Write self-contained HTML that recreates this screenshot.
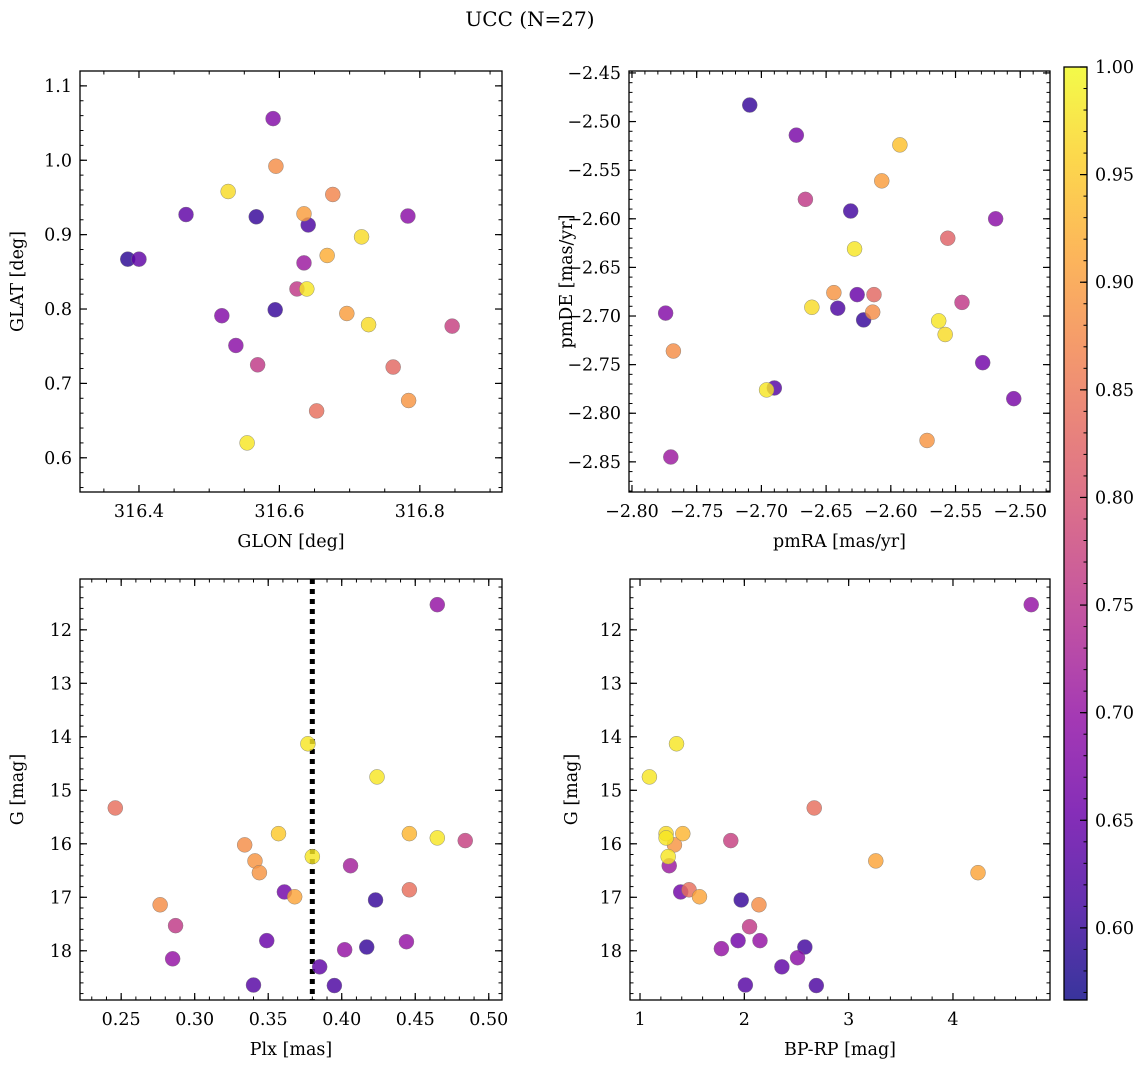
<!DOCTYPE html>
<html><head><meta charset="utf-8">
<style>
html,body{margin:0;padding:0;background:#fff;}
svg{display:block;font-family:"DejaVu Serif","Liberation Serif",serif;}
</style></head>
<body>
<svg id="fig" width="1148" height="1067" viewBox="0 0 1148 1067" xmlns="http://www.w3.org/2000/svg">
<text x="530" y="26" font-size="20" text-anchor="middle">UCC (N=27)</text>
</svg>
<script>
// ---- Panel 1: GLON vs GLAT ----
const glon = [316.591,316.595,316.527,316.676,316.467,316.567,316.635,316.641,316.783,316.717,316.384,316.400,316.668,316.635,316.625,316.639,316.594,316.518,316.696,316.727,316.846,316.538,316.569,316.762,316.653,316.784,316.554];
const glat = [1.056,0.992,0.958,0.954,0.927,0.924,0.928,0.913,0.925,0.897,0.867,0.867,0.872,0.862,0.827,0.827,0.799,0.791,0.794,0.779,0.777,0.751,0.725,0.722,0.663,0.677,0.620];
const probSky = [0.68,0.88,0.97,0.87,0.64,0.60,0.90,0.62,0.69,0.97,0.59,0.64,0.92,0.71,0.76,0.98,0.60,0.68,0.90,0.97,0.77,0.69,0.76,0.83,0.84,0.89,0.98];
// ---- Panel 2: pmRA vs pmDE ----
const pmRA = [-2.709,-2.673,-2.593,-2.607,-2.666,-2.631,-2.519,-2.556,-2.628,-2.774,-2.644,-2.626,-2.613,-2.661,-2.641,-2.614,-2.621,-2.545,-2.563,-2.558,-2.768,-2.690,-2.696,-2.529,-2.505,-2.572,-2.770];
const pmDE = [-2.483,-2.514,-2.524,-2.561,-2.580,-2.592,-2.600,-2.620,-2.631,-2.697,-2.676,-2.678,-2.678,-2.691,-2.692,-2.696,-2.704,-2.686,-2.705,-2.719,-2.736,-2.774,-2.776,-2.748,-2.785,-2.828,-2.845];
const probPm = [0.60,0.67,0.94,0.90,0.76,0.61,0.69,0.82,0.98,0.68,0.89,0.65,0.83,0.97,0.62,0.88,0.60,0.76,0.98,0.97,0.88,0.63,0.98,0.66,0.67,0.89,0.71];
// ---- Panel 3: Plx vs G ----
const plx = [0.246,0.2765,0.287,0.285,0.334,0.341,0.344,0.357,0.361,0.368,0.349,0.340,0.377,0.380,0.385,0.395,0.402,0.406,0.417,0.423,0.424,0.444,0.446,0.446,0.465,0.465,0.484];
const gPlx = [15.33,17.14,17.53,18.15,16.02,16.32,16.54,15.81,16.90,16.99,17.81,18.64,14.13,16.24,18.30,18.65,17.98,16.41,17.93,17.05,14.75,17.83,15.81,16.86,11.53,15.89,15.94];
const probPlx = [0.84,0.88,0.76,0.70,0.88,0.89,0.89,0.95,0.66,0.91,0.65,0.63,0.98,0.98,0.64,0.62,0.70,0.72,0.60,0.60,0.98,0.70,0.93,0.84,0.70,0.98,0.77];
const plxLine = [0.380];
// ---- Panel 4: BP-RP vs G ----
const bprp = [1.09,1.35,1.25,1.25,1.27,1.28,1.33,1.39,1.41,1.47,1.57,1.78,1.87,1.94,1.97,2.01,2.05,2.14,2.15,2.36,2.51,2.58,2.67,2.69,3.26,4.24,4.75];
const gCmd = [14.75,14.13,15.81,15.89,16.24,16.41,16.02,16.90,15.81,16.86,16.99,17.96,15.94,17.81,17.05,18.64,17.55,17.14,17.81,18.30,18.13,17.93,15.33,18.65,16.32,16.54,11.53];
const probCmd = [0.98,0.98,0.97,0.98,0.98,0.71,0.89,0.66,0.93,0.84,0.91,0.70,0.77,0.66,0.60,0.63,0.76,0.88,0.70,0.64,0.69,0.61,0.84,0.62,0.91,0.91,0.70];
// ---- ticks ----
const ticks1x = [316.4,316.6,316.8], ticks1y = [0.6,0.7,0.8,0.9,1.0,1.1];
const ticks2x = [-2.80,-2.75,-2.70,-2.65,-2.60,-2.55,-2.50], ticks2y = [-2.85,-2.80,-2.75,-2.70,-2.65,-2.60,-2.55,-2.50,-2.45];
const ticks3x = [0.25,0.30,0.35,0.40,0.45,0.50], ticksG = [12,13,14,15,16,17,18];
const ticks4x = [1,2,3,4];
const cbarTicks = [0.60,0.65,0.70,0.75,0.80,0.85,0.90,0.95,1.00];
const cmin = 0.5665, cmax = 1.0;

const NS = "http://www.w3.org/2000/svg";
const svg = document.getElementById('fig');
const TF = 17.5, LF = 17.5;
function mk(tag, attrs, parent){const e=document.createElementNS(NS,tag);for(const k in attrs)e.setAttribute(k,attrs[k]);(parent||svg).appendChild(e);return e;}

const stops=["#0d0887","#41049d","#6a00a8","#8f0da4","#b12a90","#cc4778","#e16462","#f2844b","#fca636","#fcce25","#f0f921"];
function hex(h){return [1,3,5].map(i=>parseInt(h.substr(i,2),16));}
function plasma(t){t=Math.max(0,Math.min(1,t));const f=t*10,i=Math.min(9,Math.floor(f)),r=f-i;const a=hex(stops[i]),b=hex(stops[i+1]);return "rgb("+a.map((v,k)=>Math.round(v+(b[k]-v)*r)).join(",")+")";}
function cnorm(v){return (v-cmin)/(cmax-cmin);}
function fmtNum(v,d){const s=Math.abs(v).toFixed(d);return (v<0?"\u2212":"")+s;}

function panel(p){
  const g=mk('g',{});
  
  
  const sx=v=>p.x0+(v-p.xmin)/(p.xmax-p.xmin)*(p.x1-p.x0);
  const sy=p.invert? (v=>p.y0+(v-p.ymin)/(p.ymax-p.ymin)*(p.y1-p.y0)) : (v=>p.y1-(v-p.ymin)/(p.ymax-p.ymin)*(p.y1-p.y0));
  const eps=1e-9;
  for(let v=Math.ceil(p.xmin/p.xminor)*p.xminor; v<=p.xmax+eps; v+=p.xminor){
    const x=sx(v); if(x<p.x0||x>p.x1) continue;
    mk('line',{x1:x,x2:x,y1:p.y1,y2:p.y1-3.5,stroke:"#000","stroke-width":1},g);
    mk('line',{x1:x,x2:x,y1:p.y0,y2:p.y0+3.5,stroke:"#000","stroke-width":1},g);
  }
  for(let v=Math.ceil(p.ymin/p.yminor)*p.yminor; v<=p.ymax+eps; v+=p.yminor){
    const y=sy(v); if(y<p.y0||y>p.y1) continue;
    mk('line',{x1:p.x0,x2:p.x0+3.5,y1:y,y2:y,stroke:"#000","stroke-width":1},g);
    mk('line',{x1:p.x1,x2:p.x1-3.5,y1:y,y2:y,stroke:"#000","stroke-width":1},g);
  }
  p.xt.forEach(v=>{const x=sx(v);
    mk('line',{x1:x,x2:x,y1:p.y1,y2:p.y1-7,stroke:"#000","stroke-width":1.2},g);
    mk('line',{x1:x,x2:x,y1:p.y0,y2:p.y0+7,stroke:"#000","stroke-width":1.2},g);
    const t=mk('text',{x:x,y:p.y1+25,"font-size":TF,"text-anchor":"middle"},g);
    
    
    t.textContent=fmtNum(v,p.xd);
  });
  p.yt.forEach(v=>{const y=sy(v);
    mk('line',{x1:p.x0,x2:p.x0+7,y1:y,y2:y,stroke:"#000","stroke-width":1.2},g);
    mk('line',{x1:p.x1,x2:p.x1-7,y1:y,y2:y,stroke:"#000","stroke-width":1.2},g);
    const t=mk('text',{x:p.x0-8,y:y+6,"font-size":TF,"text-anchor":"end"},g);
    
    
    t.textContent=fmtNum(v,p.yd);
  });
  if(p.vline){p.vline.forEach(v=>{const l=mk('line',{x1:sx(v),x2:sx(v),y1:p.y0,y2:p.y1,stroke:"#000","stroke-width":5,"stroke-dasharray":"5 5"},g);
    
    });}
  const order=p.xs.map((_,i)=>i).sort((a,b)=>p.c[a]-p.c[b]);
  order.forEach(i=>{
    const c=mk('circle',{cx:sx(p.xs[i]),cy:sy(p.ys[i]),r:7.5,fill:plasma(cnorm(p.c[i])),"fill-opacity":0.82,stroke:"#777","stroke-width":0.5,"stroke-opacity":0.8},g);
    
    
  });
  mk('rect',{x:p.x0,y:p.y0,width:p.x1-p.x0,height:p.y1-p.y0,fill:"none",stroke:"#000","stroke-width":1.3},g);
  const xl=mk('text',{x:(p.x0+p.x1)/2,y:p.y1+55,"font-size":LF,"text-anchor":"middle"},g);
  
  
  xl.textContent=p.xlabel;
  const yl=mk('text',{x:0,y:0,"font-size":LF,"text-anchor":"middle",transform:`translate(${p.ylx},${(p.y0+p.y1)/2}) rotate(-90)`},g);
  
  
  yl.textContent=p.ylabel;
}

panel({name:"sky-panel",x0:80,x1:502,y0:71,y1:492,xmin:316.316,xmax:316.917,ymin:0.554,ymax:1.120,xs:glon,ys:glat,c:probSky,xt:ticks1x,yt:ticks1y,xd:1,yd:1,xminor:0.05,yminor:0.02,xlabel:"GLON [deg]",ylabel:"GLAT [deg]",ylx:23});
panel({name:"proper-motion-panel",x0:629,x1:1050,y0:71,y1:492,xmin:-2.8023,xmax:-2.477,ymin:-2.881,ymax:-2.448,xs:pmRA,ys:pmDE,c:probPm,xt:ticks2x,yt:ticks2y,xd:2,yd:2,xminor:0.01,yminor:0.01,xlabel:"pmRA [mas/yr]",ylabel:"pmDE [mas/yr]",ylx:572});
panel({name:"parallax-panel",x0:80,x1:502,y0:579,y1:1000,xmin:0.222,xmax:0.509,ymin:11.05,ymax:18.92,invert:true,xs:plx,ys:gPlx,c:probPlx,xt:ticks3x,yt:ticksG,xd:2,yd:0,xminor:0.01,yminor:0.2,xlabel:"Plx [mas]",ylabel:"G [mag]",ylx:23,vline:plxLine});
panel({name:"cmd-panel",x0:630,x1:1050,y0:579,y1:1000,xmin:0.904,xmax:4.93,ymin:11.05,ymax:18.92,invert:true,xs:bprp,ys:gCmd,c:probCmd,xt:ticks4x,yt:ticksG,xd:0,yd:0,xminor:0.2,yminor:0.2,xlabel:"BP-RP [mag]",ylabel:"G [mag]",ylx:577});

(function(){
  const cx0=1064,cx1=1087,cy0=67,cy1=1000;
  const g=mk('g',{});
  
  
  const defs=mk('defs',{},g);
  const lg=mk('linearGradient',{id:"cb",x1:0,y1:1,x2:0,y2:0},defs);
  for(let i=0;i<=20;i++){const v=cmin+(cmax-cmin)*i/20;mk('stop',{offset:(i/20),"stop-color":plasma(cnorm(v))},lg);}
  mk('rect',{x:cx0,y:cy0,width:cx1-cx0,height:cy1-cy0,fill:"url(#cb)","fill-opacity":0.82},g);
  const sy=v=>cy1-(v-cmin)/(cmax-cmin)*(cy1-cy0);
  for(let v=0.57;v<=1.0001;v+=0.01){const y=sy(v);mk('line',{x1:cx1,x2:cx1-3.5,y1:y,y2:y,stroke:"#000","stroke-width":1},g);}
  cbarTicks.forEach(v=>{const y=sy(v);
    mk('line',{x1:cx1,x2:cx1-7,y1:y,y2:y,stroke:"#000","stroke-width":1.2},g);
    const t=mk('text',{x:cx1+8,y:y+6,"font-size":TF},g);
    
    
    t.textContent=v.toFixed(2);
  });
  mk('rect',{x:cx0,y:cy0,width:cx1-cx0,height:cy1-cy0,fill:"none",stroke:"#000","stroke-width":1.3},g);
})();
</script>
</body></html>
